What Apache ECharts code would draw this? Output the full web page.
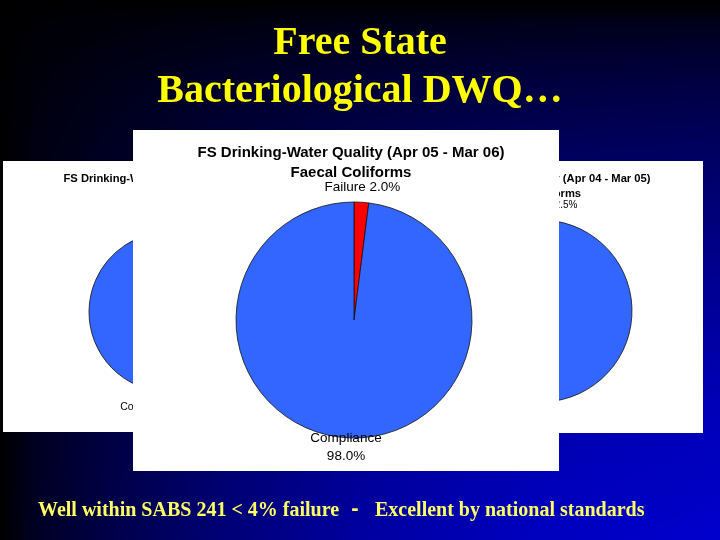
<!DOCTYPE html>
<html><head><meta charset="utf-8">
<script src="https://cdn.jsdelivr.net/npm/echarts@6/dist/echarts.min.js"></script>
<style>html,body{margin:0;padding:0;background:#000;}#c{width:720px;height:540px;}</style>
</head><body><div id="c"></div>
<script>
// ---- data ----
const slideTitle = ['Free State', 'Bacteriological DWQ\u2026'];
const chartTitles = [
  'FS Drinking-Water Quality (Apr 03 - Mar 04)',
  'FS Drinking-Water Quality (Apr 04 - Mar 05)',
  'FS Drinking-Water Quality (Apr 05 - Mar 06)'
];
const chartSubtitle = 'Faecal Coliforms';
const categories = ['Failure', 'Compliance'];
const failurePct = [6.5, 2.5, 2.0];
const compliancePct = [93.5, 97.5, 98.0];
const footnote = ['Well within SABS 241 < 4% failure', '-', 'Excellent by national standards'];

// ---- layout (styles / positions) ----
const panels = [
  { x: 3, y: 161, w: 350, h: 271, tx: 178, ty: 179, sy: 194, tfs: 11.2, lfs: 10.5, lh: 13.5,
    center: [169, 312], r: 80, len: [15, 23.9], z: 1 },
  { x: 369, y: 161, w: 334, h: 272, tx: 536, ty: 179, sy: 194, tfs: 11.2, lfs: 10, lh: 13.5,
    center: [541, 311], r: 91, len: [15, 21.7], z: 1 },
  { x: 133, y: 130, w: 426, h: 341, tx: 351, ty: 153, sy: 173, tfs: 15, lfs: 13.5, lh: 18,
    center: [354, 320], r: 118, len: [15, 9.3], z: 10 }
];
const colors = ['#ff0000', '#3366ff'];

const graphics = [];
// background: horizontal blue ramp * vertical darkening
graphics.push({
  type: 'rect', z: 0, shape: { x: 0, y: 0, width: 720, height: 540 },
  style: { fill: { type: 'linear', x: 0, y: 0, x2: 1, y2: 0, colorStops: [
    { offset: 0, color: '#000000' }, { offset: 0.05, color: '#000024' },
    { offset: 0.15, color: '#000048' }, { offset: 0.3, color: '#000074' },
    { offset: 0.5, color: '#0000a0' }, { offset: 0.75, color: '#0000c0' },
    { offset: 1, color: '#0000cc' } ] } }
});
graphics.push({
  type: 'rect', z: 0, shape: { x: 0, y: 0, width: 720, height: 540 },
  style: { fill: { type: 'linear', x: 0, y: 0, x2: 0, y2: 1, colorStops: [
    { offset: 0, color: 'rgba(0,0,0,1)' }, { offset: 0.05, color: 'rgba(0,0,0,0.85)' },
    { offset: 0.15, color: 'rgba(0,0,0,0.68)' }, { offset: 0.3, color: 'rgba(0,0,0,0.5)' },
    { offset: 0.5, color: 'rgba(0,0,0,0.3)' }, { offset: 0.75, color: 'rgba(0,0,0,0.1)' },
    { offset: 1, color: 'rgba(0,0,0,0)' } ] } }
});
// slide title
slideTitle.forEach((t, i) => graphics.push({
  type: 'text', z: 30, x: 360, y: 44 + i * 48,
  style: { text: t, fill: '#ffff00', font: 'bold 40px "Liberation Serif", "Times New Roman", serif',
    align: 'center', verticalAlign: 'middle' }
}));
// footnote
graphics.push({ type: 'text', z: 30, x: 38, y: 511,
  style: { text: footnote[0], fill: '#ffff66', font: 'bold 20px "Liberation Serif", serif', align: 'left', verticalAlign: 'middle' } });
graphics.push({ type: 'text', z: 30, x: 355, y: 509,
  style: { text: footnote[1], fill: '#ffff66', font: 'bold 22px "Liberation Sans", sans-serif', align: 'center', verticalAlign: 'middle' } });
graphics.push({ type: 'text', z: 30, x: 375, y: 511,
  style: { text: footnote[2], fill: '#ffff66', font: 'bold 20px "Liberation Serif", serif', align: 'left', verticalAlign: 'middle' } });

// panels and their titles
panels.forEach((p, i) => {
  graphics.push({ type: 'rect', z: p.z, shape: { x: p.x, y: p.y, width: p.w, height: p.h },
    style: { fill: '#ffffff' } });
  graphics.push({ type: 'text', z: p.z + 1, x: p.tx, y: p.ty,
    style: { text: chartTitles[i], fill: '#000', font: 'bold ' + p.tfs + 'px "Liberation Sans", Arial, sans-serif',
      align: 'center', verticalAlign: 'middle' } });
  graphics.push({ type: 'text', z: p.z + 1, x: p.tx, y: p.sy,
    style: { text: chartSubtitle, fill: '#000', font: 'bold ' + p.tfs + 'px "Liberation Sans", Arial, sans-serif',
      align: 'center', verticalAlign: 'middle' } });
});

const series = panels.map((p, i) => ({
  type: 'pie',
  z: p.z + 2,
  center: p.center,
  radius: p.r,
  startAngle: 90,
  clockwise: true,
  avoidLabelOverlap: false,
  animation: false,
  silent: true,
  itemStyle: { borderColor: '#111', borderWidth: 0.8 },
  label: {
    show: true, position: 'outside', color: '#000',
    fontFamily: '"Liberation Sans", Arial, sans-serif', fontSize: p.lfs, lineHeight: p.lh,
    distanceToLabelLine: 0,
    formatter: (q) => q.dataIndex === 0
      ? q.name + ' ' + q.value.toFixed(1) + '%'
      : q.name + '\n' + q.value.toFixed(1) + '%'
  },
  labelLine: { show: false, length: 10, length2: 0 },
  labelLayout: () => ({ align: 'center' }),
  data: [
    { name: categories[0], value: failurePct[i], itemStyle: { color: colors[0] },
      labelLine: { show: false, length: p.len[0], length2: 0 } },
    { name: categories[1], value: compliancePct[i], itemStyle: { color: colors[1] },
      labelLine: { show: false, length: p.len[1], length2: 0 } }
  ]
}));

const chart = echarts.init(document.getElementById('c'), null, { renderer: 'canvas' });
chart.setOption({
  animation: false,
  backgroundColor: '#000',
  graphic: { elements: graphics },
  series: series
});
</script></body></html>
